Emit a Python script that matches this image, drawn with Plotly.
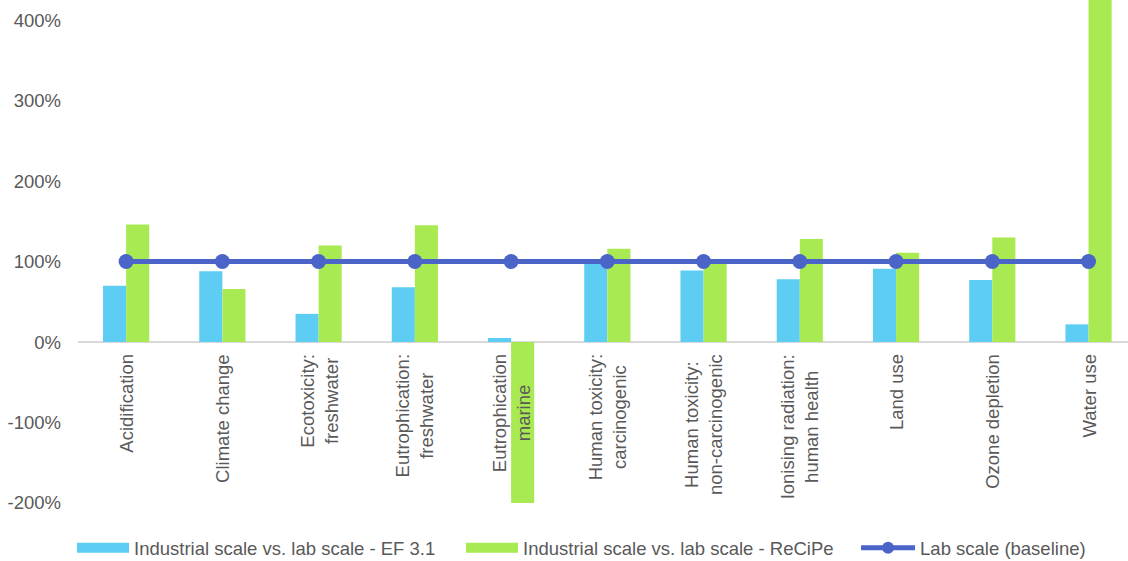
import plotly.graph_objects as go

categories = [
    "Acidification", "Climate change", "Ecotoxicity:<br>freshwater",
    "Eutrophication:<br>freshwater", "Eutrophication<br>marine",
    "Human toxicity:<br>carcinogenic", "Human toxicity:<br>non-carcinogenic",
    "Ionising radiation:<br>human health", "Land use", "Ozone depletion", "Water use",
]
ef31 = [70, 88, 35, 68, 5, 98, 89, 78, 91, 77, 22]
recipe = [146, 66, 120, 145, -200, 116, 103, 128, 111, 130, 470]
baseline = [100] * len(categories)

y_ticks = [-200, -100, 0, 100, 200, 300, 400]
y_tick_labels = ["-200%", "-100%", "0%", "100%", "200%", "300%", "400%"]

series_names = [
    "Industrial scale vs. lab scale - EF 3.1",
    "Industrial scale vs. lab scale - ReCiPe",
    "Lab scale (baseline)",
]

BLUE = "#5ECDF3"
GREEN = "#A9EA52"
LINE = "#4B64C8"
TEXT = "#595959"
FONT = "Liberation Sans, Arial, sans-serif"
FS = 18.5

x = list(range(len(categories)))

fig = go.Figure()
fig.add_trace(go.Bar(x=x, y=ef31, marker=dict(color=BLUE, line=dict(width=0)),
                     name=series_names[0], showlegend=False))
fig.add_trace(go.Bar(x=x, y=recipe, marker=dict(color=GREEN, line=dict(width=0)),
                     name=series_names[1], showlegend=False))
fig.add_trace(go.Scatter(x=x, y=baseline, mode="lines+markers",
                         line=dict(color=LINE, width=5),
                         marker=dict(color=LINE, size=15),
                         name=series_names[2], showlegend=False))

# legend entries drawn as wide swatches, one legend box per series
fig.add_trace(go.Scatter(x=[None], y=[None], mode="lines", legend="legend",
                         line=dict(color=BLUE, width=10), name=series_names[0]))
fig.add_trace(go.Scatter(x=[None], y=[None], mode="lines", legend="legend2",
                         line=dict(color=GREEN, width=10), name=series_names[1]))
fig.add_trace(go.Scatter(x=[None], y=[None], mode="lines+markers", legend="legend3",
                         line=dict(color=LINE, width=5),
                         marker=dict(color=LINE, size=12), name=series_names[2]))

# category labels hang below the zero line
for i, c in enumerate(categories):
    fig.add_annotation(x=i, y=0, xref="x", yref="y", text=c, textangle=-90,
                       showarrow=False, xanchor="center", yanchor="top", yshift=-10,
                       align="center", font=dict(family=FONT, size=FS, color=TEXT))

legend_common = dict(orientation="h", xanchor="left", y=-0.09, yanchor="middle",
                     font=dict(family=FONT, size=FS, color=TEXT),
                     bgcolor="rgba(0,0,0,0)")

fig.update_layout(
    width=1128, height=561,
    margin=dict(l=78, r=0, t=0, b=58, autoexpand=False),
    paper_bgcolor="white", plot_bgcolor="white",
    barmode="group", bargap=0.52, bargroupgap=0,
    font=dict(family=FONT, size=FS, color=TEXT),
    legend=dict(x=-0.0057, itemwidth=52, **legend_common),
    legend2=dict(x=0.3648, itemwidth=52, **legend_common),
    legend3=dict(x=0.741, itemwidth=54, **legend_common),
    xaxis=dict(range=[-0.5, 10.41], showticklabels=False, showgrid=False,
               zeroline=False, showline=False, ticks=""),
    yaxis=dict(range=[-200, 425], tickmode="array", tickvals=y_ticks,
               ticktext=y_tick_labels, showgrid=False, zeroline=True,
               zerolinecolor="#D9D9D9", zerolinewidth=2, showline=False, ticks="",
               ticklabelstandoff=16, tickfont=dict(family=FONT, size=FS, color=TEXT)),
)

fig.write_html("out.html")
